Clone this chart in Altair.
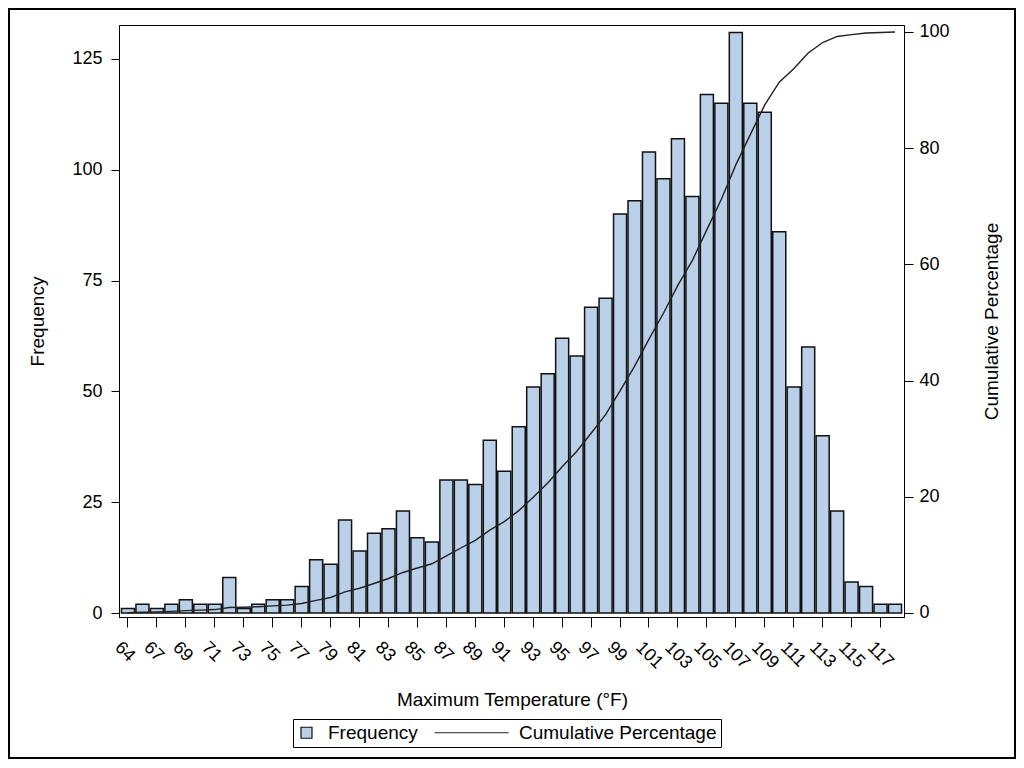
import altair as alt
import pandas as pd

# ---- data ----
frequency = [1, 2, 1, 2, 3, 2, 2, 8, 1, 2, 3, 3, 6, 12, 11, 21, 14, 18, 19, 23,
             17, 16, 30, 30, 29, 39, 32, 42, 51, 54, 62, 58, 69, 71, 90, 93, 104, 98,
             107, 94, 117, 115, 131, 115, 113, 86, 51, 60, 40, 23, 7, 6, 2, 2]
bins = list(range(1, len(frequency) + 1))          # bar order (left to right)
tick_labels = ["64", "67", "69", "71", "73", "75", "77", "79", "81", "83", "85",
               "87", "89", "91", "93", "95", "97", "99", "101", "103", "105",
               "107", "109", "111", "113", "115", "117"]
tick_bins = bins[::2]                               # a label under every other bar
freq_ticks = [0, 25, 50, 75, 100, 125]
pct_ticks = [0, 20, 40, 60, 80, 100]
series_names = ["Frequency", "Cumulative Percentage"]

BAR_FILL = "#BACFE8"
FONT = "Liberation Sans"

df = pd.DataFrame({"bin": bins, "frequency": frequency})
label_expr = "[" + ",".join("'%s'" % t for t in tick_labels) + "][(datum.value-1)/2]"

x_enc = alt.X(
    "bin:O",
    scale=alt.Scale(paddingInner=0.1, paddingOuter=0.17),
    axis=alt.Axis(
        values=tick_bins, labelExpr=label_expr, labelAngle=45,
        labelAlign="left", labelBaseline="top", labelPadding=11, labelOffset=-4,
        tickSize=10, title="Maximum Temperature (°F)", titleX=393, titleY=88,
        titleAlign="center", titleBaseline="alphabetic", grid=False,
    ),
)

base = alt.Chart(df)

bars = base.mark_bar(fill=BAR_FILL, stroke="#111111", strokeWidth=1.5).encode(
    x=x_enc,
    y=alt.Y(
        "frequency:Q",
        scale=alt.Scale(domain=[-0.9, 132.67], nice=False, zero=False),
        axis=alt.Axis(values=freq_ticks, title="Frequency", tickSize=8, labelPadding=9,
                      titleAngle=270, titleAlign="center", titleBaseline="alphabetic",
                      titleX=-76, titleY=296, grid=False),
    ),
)

line = (
    base.transform_joinaggregate(total="sum(frequency)")
    .transform_window(cum="sum(frequency)", sort=[alt.SortField("bin")])
    .transform_calculate(pct="100 * datum.cum / datum.total")
    .mark_line(color="#222222", strokeWidth=1.4)
    .encode(
        x=x_enc,
        y=alt.Y(
            "pct:Q",
            scale=alt.Scale(domain=[-0.69, 101.2], nice=False, zero=False),
            axis=alt.Axis(orient="right", values=pct_ticks, title="Cumulative Percentage",
                          tickSize=9, labelPadding=6, titleAngle=270, titleAlign="center",
                          titleBaseline="alphabetic", titleX=93, titleY=296, grid=False),
        ),
    )
)

square_path = "M-2.3,0M-1.1,-1.1H1.1V1.1H-1.1Z"
line_path = "M-12.6,0L2.2,0"
legend = alt.Legend(
    orient="none", legendX=174, legendY=694, direction="horizontal", title=None,
    strokeColor="black", padding=4, symbolSize=100, symbolStrokeWidth=1.2,
    symbolOpacity=1, labelFont=FONT, labelFontSize=19, labelLimit=500,
    labelColor="black", labelOffset=12, columnPadding=14,
)
legend_layer = (
    alt.Chart(pd.DataFrame({"series": series_names}))
    .transform_filter("false")
    .mark_point(filled=True, opacity=1)
    .encode(
        fill=alt.Fill("series:N", scale=alt.Scale(domain=series_names, range=[BAR_FILL, "transparent"]),
                      legend=legend),
        stroke=alt.Stroke("series:N", scale=alt.Scale(domain=series_names, range=["#111111", "#222222"]),
                          legend=legend),
        shape=alt.Shape("series:N", scale=alt.Scale(domain=series_names, range=[square_path, line_path]),
                        legend=legend),
    )
)

border = alt.Chart(alt.Data(values=[{}])).mark_rect(
    fill="transparent", stroke="black", strokeWidth=2
).encode(x=alt.value(-110), x2=alt.value(896), y=alt.value(-16), y2=alt.value(733))

chart = (
    alt.layer(bars, line, legend_layer, border)
    .resolve_scale(y="independent")
    .properties(
        width=785, height=592,
        autosize=alt.AutoSizeParams(type="none"),
        padding={"left": 111, "top": 17, "right": 112, "bottom": 142},
    )
    .configure_view(stroke="black", strokeWidth=1)
    .configure_axis(
        labelFont=FONT, labelFontSize=18, labelColor="black",
        titleFont=FONT, titleFontSize=19, titleFontWeight="normal", titleColor="black",
        tickColor="black", domainColor="black", domainWidth=1, tickWidth=1,
    )
)

chart.save("out.html", embed_options={"renderer": "svg", "actions": False})
